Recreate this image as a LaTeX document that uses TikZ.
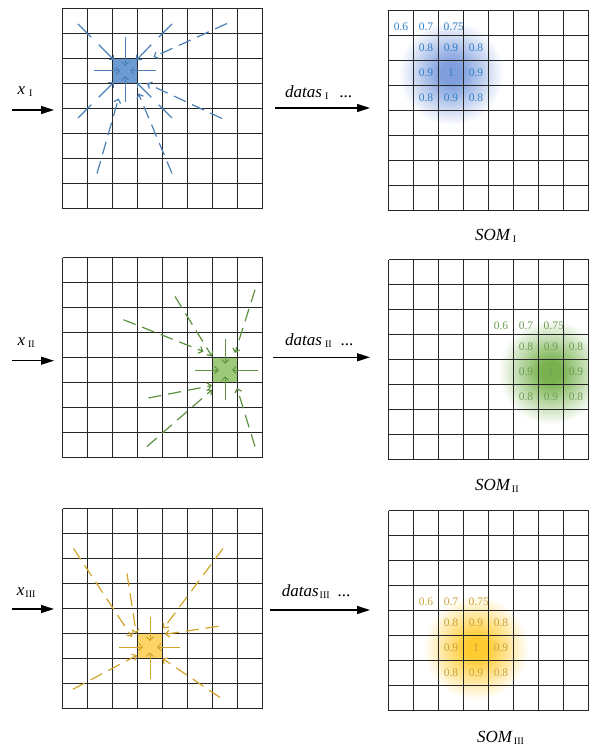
\documentclass[tikz,border=0pt]{standalone}
\usepackage{fontspec}
\setmainfont{Liberation Serif}
\usetikzlibrary{arrows.meta}
\definecolor{bFill}{HTML}{6C9BD2}
\definecolor{bLine}{HTML}{4C7FB6}
\definecolor{bNum}{HTML}{2F80C8}
\definecolor{bGlow}{HTML}{7E9EDD}
\definecolor{gFill}{HTML}{9CC97A}
\definecolor{gLine}{HTML}{5C9140}
\definecolor{gNum}{HTML}{6E9E52}
\definecolor{gGlow}{HTML}{78B24F}
\definecolor{yFill}{HTML}{FDD466}
\definecolor{yLine}{HTML}{D2A32A}
\definecolor{yNum}{HTML}{C9A23A}
\definecolor{yGlow}{HTML}{FFCB30}
\pgfdeclareradialshading{glowB}{\pgfpoint{0bp}{0bp}}{color(0bp)=(bGlow);color(5bp)=(bGlow);color(25bp)=(white);color(50bp)=(white)}
\pgfdeclareradialshading{glowG}{\pgfpoint{0bp}{0bp}}{color(0bp)=(gGlow);color(5bp)=(gGlow);color(25bp)=(white);color(50bp)=(white)}
\pgfdeclareradialshading{glowY}{\pgfpoint{0bp}{0bp}}{color(0bp)=(yGlow);color(5bp)=(yGlow);color(25bp)=(white);color(50bp)=(white)}
\newcommand{\rsub}[1]{\raisebox{-2.5pt}{\fontsize{10}{10}\selectfont #1}}
\newcommand{\gridlines}{\foreach \gi in {0,...,8}{\draw[gridln] (\gi,0) -- (\gi,8); \draw[gridln] (0,\gi) -- (8,\gi);}}
% #1 prefix, #2 colour, #3 BMU column, #4 BMU row
\newcommand{\somnums}[4]{%
 \node[num,text=#2] (#1a) at ({#3-1.5},{#4-1.35}) {0.6};
 \node[num,text=#2] (#1b) at ({#3-0.5},{#4-1.35}) {0.7};
 \node[num,text=#2,anchor=west] (#1c) at ({#3+0.2},{#4-1.35}) {0.75};
 \node[num,text=#2] (#1d) at ({#3-0.5},{#4-0.5}) {0.8};
 \node[num,text=#2] (#1e) at ({#3+0.5},{#4-0.5}) {0.9};
 \node[num,text=#2] (#1f) at ({#3+1.5},{#4-0.5}) {0.8};
 \node[num,text=#2] (#1g) at ({#3-0.5},{#4+0.5}) {0.9};
 \node[num,text=#2] (#1h) at ({#3+0.5},{#4+0.5}) {1};
 \node[num,text=#2] (#1i) at ({#3+1.5},{#4+0.5}) {0.9};
 \node[num,text=#2] (#1j) at ({#3-0.5},{#4+1.5}) {0.8};
 \node[num,text=#2] (#1k) at ({#3+0.5},{#4+1.5}) {0.9};
 \node[num,text=#2] (#1l) at ({#3+1.5},{#4+1.5}) {0.8};
}
\tikzset{
 gridln/.style={line width=1.3pt, black!85},
 sarr/.style={line width=1.2pt, -{Straight Barb[length=3.5pt,width=7pt]}},
 carr/.style={sarr, line width=1.0pt},
 darr/.style={sarr, dash pattern=on 13pt off 7pt},
 dseg/.style={line width=1.2pt},
 bigarr/.style={line width=1.2pt, -{Triangle[length=13pt,width=8pt]}},
 num/.style={inner sep=0pt, font=\fontsize{11.5}{11.5}\selectfont},
 lab/.style={inner sep=0pt, anchor=base west, font=\fontsize{17}{17}\selectfont},
}
\begin{document}
\begin{tikzpicture}[x=1pt,y=-1pt]
\useasboundingbox (0,0) rectangle (591,746);

% ---------- input arrows and labels ----------
\coordinate (in1s) at (11.5,110); \coordinate (in1e) at (54,110);
\coordinate (in2s) at (11.5,360.7); \coordinate (in2e) at (54,360.7);
\coordinate (in3s) at (11.5,609); \coordinate (in3e) at (54,609);
\draw[bigarr] (in1s) -- (in1e);
\draw[bigarr] (in2s) -- (in2e);
\draw[bigarr] (in3s) -- (in3e);
\node[lab] (xI) at (17.5,94.5) {\textit{x}\hspace{4pt}\rsub{I}};
\node[lab] (xII) at (17.3,345) {\textit{x}\hspace{3pt}\rsub{II}};
\node[lab] (xIII) at (16.7,595) {\textit{x}\hspace{1pt}\rsub{III}};

\coordinate (d1s) at (275,108); \coordinate (d1e) at (370,108);
\coordinate (d2s) at (273,357.3); \coordinate (d2e) at (370,357.3);
\coordinate (d3s) at (270,610); \coordinate (d3e) at (370,610);
\draw[bigarr] (d1s) -- (d1e);
\draw[bigarr] (d2s) -- (d2e);
\draw[bigarr] (d3s) -- (d3e);
\node[lab] (dI) at (285,97.3) {\textit{datas}\hspace{3pt}\rsub{I}\hspace{11pt}...};
\node[lab] (dII) at (285,345) {\textit{datas}\hspace{3pt}\rsub{II}\hspace{9pt}...};
\node[lab] (dIII) at (281.7,596) {\textit{datas}\hspace{1pt}\rsub{III}\hspace{8pt}...};

\node[lab] (sI) at (475,240) {\textit{SOM}\hspace{2pt}\rsub{I}};
\node[lab] (sII) at (475,490) {\textit{SOM}\hspace{1pt}\rsub{II}};
\node[lab] (sIII) at (477,742) {\textit{SOM}\hspace{1pt}\rsub{III}};

% ---------- left grid 1 ----------
\begin{scope}[shift={(62.5,8.5)}, x=25pt, y=-25pt, color=bLine]
 \fill[bFill] (2,2) rectangle (3,3);
 \gridlines
 \draw[carr] (2.5,1.15) -- (2.5,2.3);
 \draw[carr] (2.5,3.75) -- (2.5,2.7);
 \draw[carr] (1.25,2.5) -- (2.3,2.5);
 \draw[carr] (3.72,2.5) -- (2.7,2.5);
 \draw[dseg] (0.62,0.62) -- (1.15,1.15);
 \draw[sarr] (1.45,1.45) -- (2.07,2.07);
 \draw[dseg] (4.38,0.62) -- (3.85,1.15);
 \draw[sarr] (3.55,1.45) -- (2.95,2.07);
 \draw[dseg] (0.62,4.38) -- (1.15,3.85);
 \draw[sarr] (1.45,3.55) -- (2.05,2.95);
 \draw[dseg] (4.38,4.38) -- (3.85,3.85);
 \draw[sarr] (3.55,3.55) -- (2.97,2.97);
 \draw[darr] (6.58,0.6) -- (3.64,1.94);
 \draw[darr] (6.38,4.4) -- (3.38,3.0);
 \draw[darr] (4.38,6.6) -- (3.04,3.4);
 \draw[darr] (1.38,6.6) -- (2.24,3.6);
\end{scope}

% ---------- left grid 2 ----------
\begin{scope}[shift={(62.5,257.5)}, x=25pt, y=-25pt, color=gLine]
 \fill[gFill] (6,4) rectangle (7,5);
 \gridlines
 \draw[carr] (6.5,3.27) -- (6.5,4.25);
 \draw[carr] (6.5,5.7) -- (6.5,4.75);
 \draw[carr] (5.3,4.5) -- (6.25,4.5);
 \draw[carr] (7.8,4.5) -- (6.78,4.5);
 \draw[darr] (4.5,1.56) -- (5.98,3.96);
 \draw[darr] (2.44,2.49) -- (5.64,3.76);
 \draw[darr] (7.7,1.29) -- (6.9,3.82);
 \draw[darr] (3.44,5.62) -- (5.98,5.12);
 \draw[darr] (3.38,7.56) -- (5.98,5.29);
 \draw[darr] (7.7,7.56) -- (6.98,5.22);
\end{scope}

% ---------- left grid 3 ----------
\begin{scope}[shift={(62.5,508.5)}, x=25pt, y=-25pt, color=yLine]
 \fill[yFill] (3,5) rectangle (4,6);
 \gridlines
 \draw[carr] (3.5,4.33) -- (3.5,5.3);
 \draw[carr] (3.5,6.8) -- (3.5,5.75);
 \draw[carr] (2.24,5.54) -- (3.22,5.54);
 \draw[carr] (4.7,5.54) -- (3.78,5.54);
 \draw[darr] (0.44,1.6) -- (2.78,5.14);
 \draw[darr] (2.58,2.6) -- (2.95,5.0);
 \draw[darr] (6.42,1.6) -- (4.04,4.8);
 \draw[darr] (6.24,4.71) -- (4.1,5.03);
 \draw[darr] (0.42,7.23) -- (2.98,5.87);
 \draw[darr] (6.3,7.56) -- (4.0,6.0);
\end{scope}

% ---------- right grid 1 ----------
\begin{scope}[shift={(388.5,10.5)}, x=25pt, y=-25pt]
 \begin{scope}
  \clip (0,0) rectangle (8,8);
  \shade[shading=glowB] (2.5,2.5) circle (2.1);
 \end{scope}
 \somnums{nb}{bNum}{2}{2}
 \gridlines
\end{scope}

% ---------- right grid 2 ----------
\begin{scope}[shift={(388.5,259.5)}, x=25pt, y=-25pt]
 \begin{scope}
  \clip (0,0) rectangle (8,8);
  \shade[shading=glowG] (6.5,4.5) circle (2.1);
 \end{scope}
 \somnums{ng}{gNum}{6}{4}
 \gridlines
\end{scope}

% ---------- right grid 3 ----------
\begin{scope}[shift={(388.5,510.5)}, x=25pt, y=-25pt]
 \begin{scope}
  \clip (0,0) rectangle (8,8);
  \shade[shading=glowY] (3.5,5.5) circle (2.1);
 \end{scope}
 \somnums{ny}{yNum}{3}{5}
 \gridlines
\end{scope}
\end{tikzpicture}
\end{document}
